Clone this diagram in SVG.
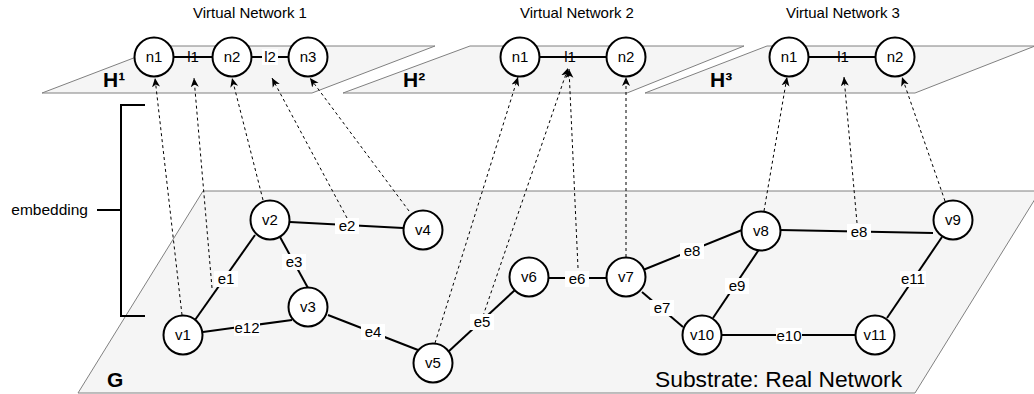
<svg xmlns="http://www.w3.org/2000/svg" width="1034" height="394" viewBox="0 0 1034 394">
<defs>
<marker id="arr" markerUnits="userSpaceOnUse" markerWidth="10" markerHeight="10" viewBox="0 0 10 10" refX="9" refY="5" orient="auto">
<path d="M0,1 L9,5 L0,9 L2.5,5 z" fill="#000"/>
</marker>
<style>
.plane{fill:#f5f5f5;stroke:#808080;stroke-width:1}
.node{fill:#fff;stroke:#000;stroke-width:2}
.edge{stroke:#000;stroke-width:2;fill:none}
.dash{stroke:#000;stroke-width:1;stroke-dasharray:3 3;fill:none;marker-end:url(#arr)}
.t{font-family:"Liberation Sans",Arial,sans-serif;font-size:15px;fill:#000;text-anchor:middle}
.lb{fill:#fff}
.big{font-family:"Liberation Sans",Arial,sans-serif;font-size:21px;font-weight:bold;fill:#000}
</style>
</defs>

<g id="planes">
<polygon class="plane" points="203,191 1040,191 915,393 78,393"/>
<polygon class="plane" points="42,93 312,93 435,46 165,46"/>
<polygon class="plane" points="343,93 627,93 744,46 470,46"/>
<polygon class="plane" points="645,93 915,93 1035,46 767,46"/>
</g>

<g id="titles">
<text class="t" x="250" y="18">Virtual Network 1</text>
<text class="t" x="577" y="18">Virtual Network 2</text>
<text class="t" x="843" y="18">Virtual Network 3</text>
<text class="big" x="103" y="87">H¹</text>
<text class="big" x="403" y="87">H²</text>
<text class="big" x="710" y="87">H³</text>
<text class="big" x="107" y="387">G</text>
<text x="655" y="387" style="font-family:'Liberation Sans',Arial,sans-serif;font-size:22.8px;fill:#000">Substrate: Real Network</text>
</g>

<g id="bracket">
<path class="edge" d="M145,105 H121 V316 H145 M121,210 H97"/>
<text x="88" y="215" style="font-family:'Liberation Sans',Arial,sans-serif;font-size:15.5px;fill:#000;text-anchor:end">embedding</text>
</g>

<g id="connectors">
<!-- virtual links -->
<line class="edge" x1="173" y1="57" x2="213" y2="57"/>
<line class="edge" x1="251" y1="57" x2="289" y2="57"/>
<line class="edge" x1="539" y1="57" x2="607" y2="57"/>
<line class="edge" x1="808" y1="57" x2="876" y2="57"/>
<!-- substrate links -->
<line class="edge" x1="290" y1="222" x2="403" y2="228"/>
<line class="edge" x1="280" y1="237" x2="308" y2="288"/>
<line class="edge" x1="255" y1="235" x2="195" y2="320"/>
<line class="edge" x1="203" y1="332" x2="292" y2="320"/>
<line class="edge" x1="328" y1="315" x2="418" y2="350"/>
<line class="edge" x1="448" y1="352" x2="515" y2="290"/>
<line class="edge" x1="548" y1="278" x2="607" y2="278"/>
<line class="edge" x1="643" y1="270" x2="742" y2="230"/>
<line class="edge" x1="642" y1="292" x2="683" y2="327"/>
<line class="edge" x1="760" y1="248" x2="713" y2="318"/>
<line class="edge" x1="780" y1="230" x2="933" y2="233"/>
<line class="edge" x1="942" y1="237" x2="887" y2="318"/>
<line class="edge" x1="722" y1="335" x2="856" y2="335"/>
<!-- mappings -->
<line class="dash" x1="182" y1="315" x2="155" y2="78"/>
<line class="dash" x1="212" y1="288" x2="194" y2="78"/>
<line class="dash" x1="263" y1="200" x2="232" y2="78"/>
<line class="dash" x1="347" y1="218" x2="272" y2="78"/>
<line class="dash" x1="409" y1="211" x2="310" y2="78"/>
<line class="dash" x1="435" y1="343" x2="518" y2="77"/>
<line class="dash" x1="483" y1="316" x2="568" y2="68"/>
<line class="dash" x1="578" y1="268" x2="569" y2="69"/>
<line class="dash" x1="626" y1="257" x2="626" y2="77"/>
<line class="dash" x1="764" y1="211" x2="787" y2="77"/>
<line class="dash" x1="857" y1="223" x2="844" y2="77"/>
<line class="dash" x1="945" y1="201" x2="902" y2="77"/>
<!-- link labels -->
<text class="t" x="193" y="62">l1</text>
<rect class="lb" x="262" y="49" width="16" height="16"/>
<text class="t" x="270" y="62">l2</text>
<text class="t" x="570" y="62">l1</text>
<text class="t" x="843" y="62">l1</text>
<rect class="lb" x="214" y="271" width="24" height="16"/>
<text class="t" x="226" y="284">e1</text>
<rect class="lb" x="335" y="218" width="24" height="16"/>
<text class="t" x="347" y="231">e2</text>
<rect class="lb" x="282" y="254" width="24" height="16"/>
<text class="t" x="294" y="267">e3</text>
<rect class="lb" x="234" y="320" width="26" height="16"/>
<text class="t" x="247" y="333">e12</text>
<rect class="lb" x="361" y="324" width="24" height="16"/>
<text class="t" x="373" y="337">e4</text>
<rect class="lb" x="470" y="314" width="24" height="16"/>
<text class="t" x="482" y="327">e5</text>
<rect class="lb" x="565" y="271" width="24" height="16"/>
<text class="t" x="577" y="284">e6</text>
<rect class="lb" x="650" y="300" width="24" height="16"/>
<text class="t" x="662" y="313">e7</text>
<rect class="lb" x="680" y="243" width="24" height="16"/>
<text class="t" x="692" y="256">e8</text>
<rect class="lb" x="725" y="278" width="24" height="16"/>
<text class="t" x="737" y="291">e9</text>
<rect class="lb" x="847" y="224" width="24" height="16"/>
<text class="t" x="859" y="237">e8</text>
<rect class="lb" x="900" y="271" width="26" height="16"/>
<text class="t" x="913" y="284">e11</text>
<rect class="lb" x="776" y="328" width="26" height="16"/>
<text class="t" x="789" y="341">e10</text>
</g>

<g id="vn1-n1"><circle class="node" cx="154" cy="57" r="19.5"/><text class="t" x="154" y="62">n1</text></g>
<g id="vn1-n2"><circle class="node" cx="232" cy="57" r="19.5"/><text class="t" x="232" y="62">n2</text></g>
<g id="vn1-n3"><circle class="node" cx="308" cy="57" r="19.5"/><text class="t" x="308" y="62">n3</text></g>
<g id="vn2-n1"><circle class="node" cx="520" cy="57" r="19.5"/><text class="t" x="520" y="62">n1</text></g>
<g id="vn2-n2"><circle class="node" cx="626" cy="57" r="19.5"/><text class="t" x="626" y="62">n2</text></g>
<g id="vn3-n1"><circle class="node" cx="789" cy="57" r="19.5"/><text class="t" x="789" y="62">n1</text></g>
<g id="vn3-n2"><circle class="node" cx="895" cy="57" r="19.5"/><text class="t" x="895" y="62">n2</text></g>

<g id="v1"><circle class="node" cx="183" cy="335" r="19.5"/><text class="t" x="183" y="340">v1</text></g>
<g id="v2"><circle class="node" cx="270" cy="220" r="19.5"/><text class="t" x="270" y="225">v2</text></g>
<g id="v3"><circle class="node" cx="308" cy="307" r="19.5"/><text class="t" x="308" y="312">v3</text></g>
<g id="v4"><circle class="node" cx="423" cy="230" r="19.5"/><text class="t" x="423" y="235">v4</text></g>
<g id="v5"><circle class="node" cx="433" cy="363" r="19.5"/><text class="t" x="433" y="368">v5</text></g>
<g id="v6"><circle class="node" cx="529" cy="277" r="19.5"/><text class="t" x="529" y="282">v6</text></g>
<g id="v7"><circle class="node" cx="626" cy="277" r="19.5"/><text class="t" x="626" y="282">v7</text></g>
<g id="v8"><circle class="node" cx="761" cy="231" r="19.5"/><text class="t" x="761" y="236">v8</text></g>
<g id="v9"><circle class="node" cx="953" cy="220" r="19.5"/><text class="t" x="953" y="225">v9</text></g>
<g id="v10"><circle class="node" cx="702" cy="335" r="19.5"/><text class="t" x="702" y="340">v10</text></g>
<g id="v11"><circle class="node" cx="875" cy="335" r="19.5"/><text class="t" x="875" y="340">v11</text></g>
</svg>
